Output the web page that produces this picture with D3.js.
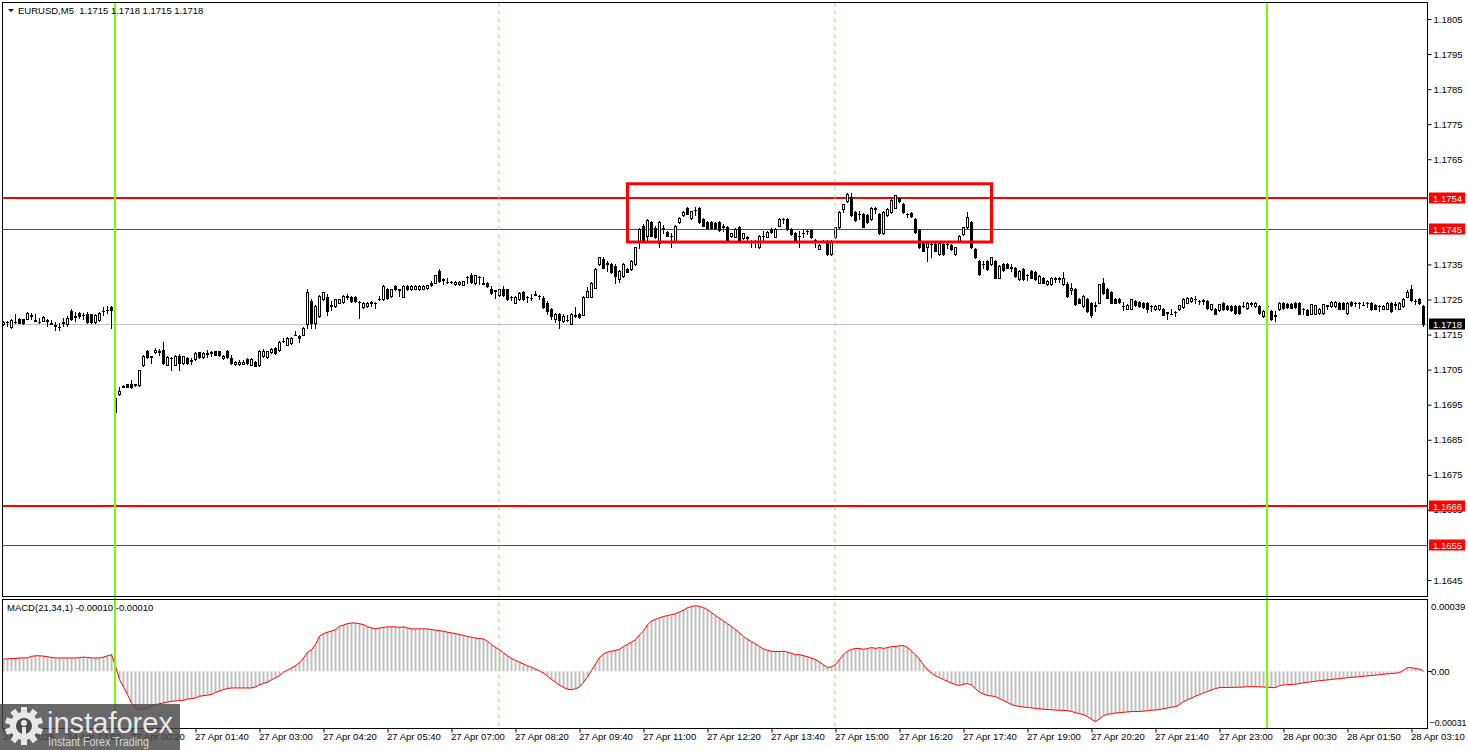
<!DOCTYPE html>
<html>
<head>
<meta charset="utf-8">
<script src="https://cdn.jsdelivr.net/npm/d3@7"></script>
<style>
  body { margin: 0; background: #fff; }
  svg { display: block; font-family: "Liberation Sans", Arial, sans-serif; }
</style>
</head>
<body>
<svg id="chart" width="1468" height="750"></svg>
<script>
// EURUSD M5 candles, values in pips above 1.1700
var opens = [
  18.1,18.6,17.2,18.6,19.3,19.3,19.5,20.5,19.1,18.6, 19.0,19.2,18.2,17.6,17.2,18.4,18.0,21.6,20.0,21.2,
  20.7,21.0,20.8,18.7,19.2,21.6,22.0,22.9,-7.0,-2.0, 0.1,0.8,0.9,0.5,0.6,6.3,10.2,8.6,10.0,10.3,
  10.6,6.4,8.2,6.4,9.0,6.8,8.2,7.5,8.0,9.9, 8.5,9.6,9.8,10.2,10.2,8.2,10.2,8.2,6.6,6.6,
  6.7,8.0,6.4,7.1,6.4,8.8,8.6,10.0,11.1,10.6, 13.1,12.1,12.6,14.9,14.5,15.0,17.9,24.5,18.3,20.2,
  25.0,25.8,23.2,23.1,24.1,24.3,25.8,25.7,25.8,24.3, 22.9,23.0,24.0,24.1,25.0,25.0,28.0,26.0,28.9,27.9,
  25.8,28.9,28.0,28.1,28.0,28.1,28.2,29.8,29.8,33.2, 30.6,30.0,29.9,29.4,29.3,29.2,31.3,32.0,29.6,31.3,
  29.6,29.8,28.0,27.5,26.2,28.0,27.9,25.7,24.1,25.0, 27.1,25.7,25.4,26.4,25.9,25.5,24.0,22.3,19.3,21.0,
  18.8,19.2,18.1,20.4,21.0,20.7,25.8,25.8,28.4,35.1, 36.5,35.2,35.1,34.6,30.8,31.7,33.8,33.6,35.1,41.3,
  46.1,43.2,47.1,45.3,41.0,45.4,44.2,43.1,41.8,47.1, 49.0,51.1,48.2,50.4,51.1,48.0,47.1,47.1,46.8,47.1,
  45.8,45.6,43.0,42.9,45.6,42.5,42.6,41.8,41.7,40.0, 43.0,42.9,45.1,42.9,46.1,47.9,48.0,45.1,43.9,43.0,
  44.0,44.6,44.7,41.9,39.5,41.7,41.8,38.0,42.7,45.6, 50.9,53.1,54.2,49.9,49.4,49.5,49.0,48.0,50.9,49.3,
  43.9,49.0,49.9,51.2,54.0,52.1,49.4,49.6,48.0,44.8, 41.0,39.9,40.7,40.8,37.9,40.8,40.7,40.4,38.0,41.8,
  43.7,45.6,47.1,39.4,36.0,35.0,36.0,35.1,36.0,31.2, 35.1,35.1,34.2,34.1,30.8,33.6,31.9,33.0,32.7,29.8,
  31.1,29.3,29.3,30.9,30.9,29.3,29.5,27.8,27.9,25.0, 23.1,25.2,24.1,23.2,24.1,29.8,27.9,27.0,25.0,25.0,
  23.1,22.4,22.4,24.5,24.3,24.1,24.1,23.1,22.2,22.2, 22.4,21.2,21.0,21.4,22.2,22.9,24.1,24.5,25.0,24.5,
  24.7,24.5,22.2,22.2,22.0,24.1,23.1,23.0,23.1,23.1, 23.0,22.6,23.8,23.0,23.1,20.2,23.0,21.7,20.4,22.2,
  24.1,23.8,23.7,23.9,24.1,22.2,22.0,21.0,21.0,21.2, 21.2,23.2,23.1,23.1,24.1,24.1,21.2,24.3,24.0,23.9,
  23.5,23.9,24.1,23.3,23.0,22.4,22.4,24.1,23.5,22.4, 23.1,25.8,27.9,24.5,25.0,23.1
];
var highs = [
  18.8,18.8,19.4,21.0,19.6,19.5,21.4,21.2,20.9,19.8, 20.3,19.4,19.2,18.5,18.4,19.6,20.3,22.2,21.3,21.4,
  21.2,21.3,21.0,20.8,21.4,22.8,23.0,23.1,-3.0,0.1, 0.5,1.0,2.0,1.0,5.0,9.1,10.5,9.0,11.1,11.0,
  13.0,8.8,8.6,9.1,9.4,9.0,8.5,8.3,10.0,10.1, 10.0,10.5,10.4,10.4,10.4,9.2,10.5,9.3,7.5,7.6,
  7.8,8.2,8.2,7.4,10.5,11.0,10.4,11.2,11.4,13.2, 14.0,14.2,14.2,16.0,15.0,17.1,27.9,25.2,23.5,26.2,
  27.2,26.5,24.5,25.2,25.2,26.2,26.6,26.0,26.0,24.6, 24.2,24.2,24.6,24.3,26.0,29.1,28.4,28.1,29.1,28.1,
  29.1,29.1,29.0,29.1,29.0,29.1,29.2,30.4,32.1,33.8, 31.0,31.0,30.4,30.3,30.2,30.4,31.6,32.5,32.1,31.6,
  31.5,30.0,28.9,27.8,28.1,28.9,28.1,26.0,26.0,27.0, 27.5,26.0,26.5,27.5,26.2,26.0,24.5,22.5,21.2,21.2,
  21.0,20.7,21.2,22.9,21.2,26.0,28.5,30.0,34.0,37.2, 37.0,36.0,35.5,35.0,33.4,35.3,34.1,36.2,40.1,45.3,
  46.4,48.0,47.4,46.0,47.3,46.2,44.5,44.0,46.3,48.4, 50.2,51.4,50.3,51.3,51.5,48.3,47.4,47.4,47.2,47.4,
  46.4,46.0,44.1,45.3,46.0,44.1,43.0,42.0,42.0,43.4, 44.5,44.4,45.3,45.3,48.2,48.2,48.3,45.4,44.2,44.5,
  45.0,45.2,45.0,42.2,40.7,42.0,42.1,41.9,45.8,50.1, 52.3,55.4,55.4,50.2,50.2,49.8,49.3,51.4,51.3,49.6,
  50.1,51.1,53.7,54.9,54.3,52.4,49.8,49.9,48.3,45.1, 41.3,41.2,41.2,41.1,41.2,41.1,41.5,40.7,40.1,43.4,
  45.8,50.0,47.4,39.7,36.3,36.0,36.3,37.2,36.3,34.8, 35.4,35.4,35.0,34.4,33.4,33.9,32.4,33.3,33.0,31.9,
  31.4,30.5,31.3,31.3,31.3,32.7,30.0,29.6,28.2,25.3, 26.2,25.5,24.4,24.2,29.5,31.0,28.2,27.3,25.3,25.3,
  24.4,23.7,25.2,24.8,24.6,24.4,24.4,23.4,23.3,23.5, 22.7,21.5,22.2,21.7,23.5,25.4,25.7,25.8,26.0,24.9,
  25.2,24.8,23.8,22.5,23.8,24.4,23.4,23.3,23.4,23.4, 24.2,24.3,24.2,24.2,23.4,21.9,24.0,22.0,21.7,24.3,
  24.4,24.1,24.0,24.3,24.4,22.5,22.3,23.8,23.5,22.6, 23.8,23.5,24.5,24.5,24.4,24.4,24.3,24.6,24.3,24.3,
  24.4,24.2,24.4,23.6,23.3,23.5,24.3,24.4,24.2,24.3, 25.4,27.6,29.0,25.0,25.3,23.5
];
var lows = [
  17.8,17.3,17.0,18.4,18.2,18.1,19.3,19.4,18.8,18.3, 18.8,17.4,18.0,16.4,16.2,17.3,17.4,19.2,18.8,19.8,
  19.3,18.3,18.4,18.4,19.0,20.6,21.2,16.9,-7.3,-2.3, 0.0,0.0,-0.2,0.4,0.4,6.0,8.3,6.8,9.8,9.3,
  6.5,6.2,4.9,6.2,4.9,6.6,6.6,6.5,7.8,8.3, 8.3,8.6,8.8,9.1,9.0,8.0,8.4,6.6,6.4,6.4,
  6.5,6.6,6.2,5.9,6.0,8.6,8.4,9.8,9.5,10.4, 12.9,11.9,12.4,14.8,13.0,14.8,17.0,16.9,16.9,20.0,
  24.8,20.5,22.0,22.9,23.9,24.1,25.0,24.3,24.3,19.8, 22.7,22.8,23.2,22.7,24.8,24.8,25.0,25.8,27.7,26.0,
  25.6,27.7,27.8,27.9,27.8,27.9,28.0,28.8,29.6,30.1, 29.5,29.8,29.7,29.2,29.1,29.0,29.8,29.7,29.4,29.5,
  29.4,28.7,26.7,25.5,26.0,26.0,24.8,24.9,23.9,24.8, 24.8,24.3,24.8,26.2,25.0,22.7,21.0,19.5,18.5,16.9,
  18.6,19.0,17.9,20.0,19.8,20.5,25.6,25.6,28.2,34.9, 33.9,33.2,32.5,29.8,30.0,31.5,32.7,33.4,34.9,39.8,
  41.6,41.5,43.0,42.6,39.9,44.0,43.0,39.9,41.6,46.9, 48.8,49.3,48.0,49.2,46.9,45.9,45.0,45.2,45.2,44.5,
  44.6,41.6,42.8,42.7,41.6,42.3,41.9,39.9,39.9,39.8, 41.8,42.7,44.0,42.7,45.9,46.8,44.9,43.5,41.6,39.9,
  42.8,43.8,42.5,40.0,39.3,41.5,37.8,37.8,42.5,45.4, 50.0,52.9,48.8,47.5,48.0,45.6,46.9,47.8,49.6,43.7,
  43.7,48.8,49.7,51.0,52.9,49.7,48.4,48.5,44.0,39.7, 38.7,36.0,37.2,38.7,37.7,37.8,39.8,39.2,37.8,41.6,
  43.5,45.4,39.7,36.8,32.0,34.0,33.4,34.9,31.0,31.0, 33.2,33.9,33.0,31.5,30.6,30.6,30.6,31.0,30.6,29.6,
  29.6,29.1,29.1,30.0,30.0,29.1,25.8,26.5,23.4,23.9, 22.9,21.5,20.0,21.8,23.9,26.7,25.3,23.9,23.9,24.1,
  22.0,22.2,22.2,23.1,22.9,22.7,21.5,21.8,22.0,22.0, 20.5,19.3,20.8,20.2,22.0,22.7,23.9,24.3,24.0,23.6,
  23.8,22.4,22.0,20.8,21.8,22.0,22.0,21.8,21.0,21.0, 22.8,22.4,23.0,22.8,21.0,20.0,22.8,19.1,19.0,22.0,
  22.3,22.6,22.5,22.7,20.8,21.0,20.5,20.8,20.8,21.0, 21.0,22.3,22.9,22.9,22.2,22.2,21.0,23.1,23.0,22.6,
  23.3,22.8,22.0,22.2,21.8,22.2,22.2,21.5,22.2,22.2, 22.9,25.6,24.6,23.6,23.7,17.5
];
var closes = [
  18.6,18.5,19.2,18.5,18.4,18.3,21.2,20.3,19.0,18.5, 20.0,19.0,18.1,17.5,17.1,18.5,19.8,19.4,20.2,20.2,
  20.6,18.6,18.6,20.5,21.2,21.7,22.1,22.0,-3.2,-1.0, 0.3,0.1,-0.1,0.8,4.9,8.9,8.6,8.9,10.5,10.0,
  6.8,8.5,8.4,8.9,7.0,8.8,6.8,7.8,9.8,8.5, 9.8,9.5,10.0,9.3,9.2,9.0,8.6,6.8,7.3,7.3,
  7.3,6.8,8.0,6.1,10.2,10.2,10.2,10.8,9.7,13.0, 13.2,14.0,14.0,15.0,14.0,16.9,27.1,18.3,23.1,26.0,
  27.0,21.7,23.5,25.0,25.0,26.0,26.0,24.5,24.5,24.2, 24.0,24.0,24.2,24.0,25.0,28.9,25.5,27.9,27.9,27.8,
  28.9,27.9,28.8,28.9,28.8,28.9,29.0,29.0,31.9,30.3, 30.8,30.0,29.9,30.1,30.0,30.2,31.4,29.9,31.9,31.4,
  29.5,28.9,26.9,27.6,27.9,26.2,25.0,25.8,25.8,26.8, 25.0,25.8,25.5,26.5,26.0,22.9,21.7,20.4,21.0,19.1,
  20.2,19.1,21.0,20.5,20.0,25.8,27.4,29.8,33.8,37.0, 34.1,35.3,32.7,31.7,33.2,35.1,32.9,36.0,39.9,45.1,
  41.8,47.8,43.2,42.8,47.1,45.5,43.2,43.0,46.1,48.2, 50.0,49.5,50.1,50.5,47.1,46.1,45.3,45.4,45.4,44.7,
  46.0,41.8,43.9,45.1,41.8,43.9,42.7,41.8,41.8,43.2, 43.0,44.2,44.2,45.1,48.0,48.0,45.1,43.7,41.8,43.0,
  44.0,44.6,42.7,41.9,40.5,41.8,38.0,41.8,45.6,49.9, 52.1,55.2,49.0,47.7,49.5,45.8,47.1,51.2,51.0,43.9,
  49.9,50.9,53.5,54.7,53.1,49.9,49.5,48.7,44.2,39.9, 38.9,41.0,40.8,38.9,41.0,38.0,40.8,39.4,39.9,43.2,
  45.6,48.5,39.9,37.0,32.2,35.0,33.6,37.0,31.2,34.6, 33.4,34.1,34.0,31.7,33.2,30.8,32.0,31.2,30.8,31.7,
  29.8,30.3,31.1,31.0,31.0,31.1,26.0,28.2,23.6,24.1, 26.0,21.7,20.7,23.5,29.3,26.9,25.5,24.1,24.1,24.3,
  23.0,23.5,25.0,23.3,23.1,22.9,22.2,23.0,23.1,23.3, 20.7,21.3,21.0,21.5,23.3,25.2,25.5,25.5,25.0,24.6,
  24.8,22.6,23.6,21.0,23.6,22.2,22.2,22.0,21.2,21.2, 23.0,24.1,24.0,24.0,21.2,21.7,23.0,19.3,20.5,24.1,
  22.5,22.8,22.7,22.9,21.0,22.3,20.7,23.6,23.3,22.4, 23.6,23.3,24.3,24.3,22.4,22.4,24.1,23.3,24.0,23.9,
  23.5,23.9,22.2,22.4,23.0,23.2,24.1,21.7,23.6,24.1, 25.2,27.1,24.8,24.6,23.9,18.0
];
// MACD(21,34,1) per bar, in units of 0.00001
var macd = [
  6.8,6.8,7.0,7.0,7.3,7.3,7.3,8.2,8.5,8.5, 8.3,8.0,7.5,7.3,7.3,7.3,7.3,7.3,7.3,7.5,
  7.8,7.6,7.3,7.3,7.3,7.8,8.5,9.1,2.7,-4.5, -8.5,-12.7,-17.3,-20.0,-21.0,-20.6,-20.0,-19.1,-18.2,-17.7,
  -17.3,-16.8,-16.4,-16.2,-16.0,-15.8,-15.1,-14.9,-14.6,-13.6, -13.3,-13.0,-12.7,-11.5,-10.8,-10.0,-9.4,-9.1,-9.1,-9.1,
  -9.1,-9.1,-9.1,-8.5,-7.3,-6.6,-6.0,-4.6,-3.5,-2.4, -0.5,0.6,1.8,3.1,4.6,7.3,10.4,11.8,14.6,19.2,
  20.6,21.4,22.0,22.8,24.6,25.3,26.1,26.4,26.4,26.0, 25.5,24.3,23.7,23.2,23.7,24.0,24.3,24.3,24.3,24.0,
  24.3,23.7,23.2,23.2,23.2,23.2,23.2,22.8,22.5,22.2, 21.9,21.4,21.0,20.6,20.1,19.6,19.1,18.6,18.2,17.9,
  17.7,16.4,14.6,13.0,11.8,10.0,8.5,7.0,6.0,5.0, 4.0,3.0,2.2,1.2,0.3,-1.0,-2.6,-4.5,-6.0,-7.6,
  -8.8,-9.8,-10.0,-9.6,-8.5,-6.0,-3.0,0.5,4.0,7.5, 9.5,10.5,11.0,11.5,12.0,13.5,14.8,16.0,17.3,20.0,
  22.0,25.5,27.5,28.5,29.3,30.0,30.5,31.0,31.5,32.5, 33.5,34.8,35.5,35.9,35.5,34.8,33.7,32.0,30.5,29.0,
  27.5,26.0,24.5,22.8,21.0,19.0,17.5,16.2,15.0,13.5, 12.2,11.5,11.0,10.8,10.8,11.0,10.5,9.8,9.1,9.1,
  8.5,8.0,7.2,6.4,5.0,3.5,2.0,2.5,3.7,6.5, 9.1,11.0,12.0,12.5,12.5,12.0,12.5,13.0,12.5,13.0,
  12.5,13.0,13.5,13.5,14.0,14.0,13.0,11.0,9.0,6.5, 3.5,0.9,-1.0,-2.5,-3.5,-4.5,-5.5,-6.5,-7.3,-7.8,
  -7.0,-6.7,-7.5,-9.5,-11.5,-12.5,-13.2,-13.5,-13.8,-15.0, -16.0,-17.0,-18.2,-18.8,-19.2,-19.5,-19.8,-20.0,-20.3,-20.5,
  -20.7,-20.9,-21.0,-21.2,-21.3,-21.4,-21.5,-22.0,-22.6,-23.2, -23.7,-24.8,-26.2,-27.5,-26.0,-24.2,-23.5,-23.2,-22.8,-22.6,
  -22.4,-22.2,-22.0,-22.0,-22.0,-21.8,-21.5,-21.3,-21.1,-20.9, -20.5,-20.0,-19.6,-19.3,-18.2,-16.6,-15.5,-14.6,-13.6,-12.7,
  -11.8,-11.0,-10.2,-9.4,-8.9,-8.9,-8.8,-8.8,-8.7,-8.7, -8.6,-8.4,-8.4,-8.4,-8.5,-8.6,-8.7,-8.9,-8.9,-7.8,
  -7.5,-7.3,-7.2,-7.0,-6.7,-6.3,-6.0,-5.7,-5.4,-5.1, -4.9,-4.7,-4.5,-4.2,-4.0,-3.8,-3.5,-3.3,-3.1,-2.9,
  -2.7,-2.5,-2.3,-2.1,-1.8,-1.6,-1.4,-1.2,-1.0,-0.7, 0.5,2.0,2.0,1.5,1.2,0.0
];

// axis labels
var timeLabels = ["24 Apr 2026","24 Apr 23:00","27 Apr 00:20","27 Apr 01:40","27 Apr 03:00","27 Apr 04:20",
  "27 Apr 05:40","27 Apr 07:00","27 Apr 08:20","27 Apr 09:40","27 Apr 11:00","27 Apr 12:20","27 Apr 13:40",
  "27 Apr 15:00","27 Apr 16:20","27 Apr 17:40","27 Apr 19:00","27 Apr 20:20","27 Apr 21:40","27 Apr 23:00",
  "28 Apr 00:30","28 Apr 01:50","28 Apr 03:10"];
var priceTicks = [1.1805,1.1795,1.1785,1.1775,1.1765,1.1735,1.1725,1.1715,1.1705,1.1695,1.1685,1.1675,1.1665,1.1645];
var macdTicks = [0.00039, 0.00, -0.00031];

// objects drawn on the chart
var levels = [1.1754, 1.1745, 1.1666, 1.1655];   // red horizontal lines
var lastPrice = 1.1718;
var dayStarts = [28, 316];                         // bar index, green vertical lines
var sessionBars = [124, 208];                      // bar index, dashed verticals
var boxBars = [156, 247], boxPrices = [1.17414, 1.1758];

var svg = d3.select("#chart");
var left = 2.5, right = 1427.5, pTop = 2.5, pBot = 596.5, mTop = 599.5, mBot = 728.5;

var pip = function(v) { return 1.17 + v / 10000; };
var n = closes.length;
var x = d3.scaleLinear().domain([0, n - 1]).range([3.5, 3.5 + 4 * (n - 1)]);
var y = d3.scaleLinear().domain([1.1645, 1.1754]).range([580, 197.8]);
var ym = d3.scaleLinear().domain([-0.00031, 0.00039]).range([728, 600]);

svg.append("rect").attr("width", 1468).attr("height", 750).attr("fill", "#fff");

var defs = svg.append("defs");
defs.append("clipPath").attr("id", "clipP").append("rect")
  .attr("x", left).attr("y", pTop).attr("width", right - left).attr("height", pBot - pTop);
defs.append("clipPath").attr("id", "clipM").append("rect")
  .attr("x", left).attr("y", mTop).attr("width", right - left).attr("height", mBot - mTop);

// ---- price pane
var pane = svg.append("g").attr("clip-path", "url(#clipP)");

// last price line
pane.append("line").attr("x1", left).attr("x2", right)
  .attr("y1", Math.round(y(lastPrice)) + 0.5).attr("y2", Math.round(y(lastPrice)) + 0.5)
  .attr("stroke", "#c0c0c0");

// red levels
var levelWidth = [2, 1, 2, 1];
pane.selectAll("line.lvl").data(levels).join("line").attr("class", "lvl")
  .attr("x1", left).attr("x2", right)
  .attr("y1", function(d, i) { return Math.round(y(d)) + (levelWidth[i] == 1 ? 0.5 : 0); })
  .attr("y2", function(d, i) { return Math.round(y(d)) + (levelWidth[i] == 1 ? 0.5 : 0); })
  .attr("stroke", "#ff0000")
  .attr("stroke-width", function(d, i) { return levelWidth[i]; });

// candles
var bars = d3.range(n).map(function(i) {
  return { i: i, o: pip(opens[i]), h: pip(highs[i]), l: pip(lows[i]), c: pip(closes[i]) };
});
var cg = pane.append("g");
cg.selectAll("rect.wick").data(bars).join("rect").attr("class", "wick")
  .attr("x", function(d) { return x(d.i) - 0.5; })
  .attr("width", 1)
  .attr("y", function(d) { return Math.round(y(d.h)); })
  .attr("height", function(d) { return Math.round(y(d.l)) - Math.round(y(d.h)) + 1; })
  .attr("fill", "#000");
cg.selectAll("rect.body").data(bars).join("rect").attr("class", "body")
  .each(function(d) {
    var top = Math.round(y(Math.max(d.o, d.c))), bot = Math.round(y(Math.min(d.o, d.c)));
    var el = d3.select(this);
    if (d.c > d.o && bot - top >= 2) {
      el.attr("x", x(d.i) - 1).attr("width", 2).attr("y", top + 0.5).attr("height", bot - top)
        .attr("fill", "#fff").attr("stroke", "#000").attr("stroke-width", 1);
    } else {
      el.attr("x", x(d.i) - 1.5).attr("width", 3).attr("y", top).attr("height", Math.max(1, bot - top + 1))
        .attr("fill", "#000");
    }
  });

// rectangle object
pane.append("rect")
  .attr("x", x(boxBars[0])).attr("y", y(boxPrices[1]))
  .attr("width", x(boxBars[1]) - x(boxBars[0]))
  .attr("height", y(boxPrices[0]) - y(boxPrices[1]))
  .attr("fill", "none").attr("stroke", "#ff0000").attr("stroke-width", 3);

// ---- MACD pane
var mp = svg.append("g").attr("clip-path", "url(#clipM)");
mp.selectAll("rect.hist").data(macd).join("rect").attr("class", "hist")
  .attr("x", function(d, i) { return x(i) - 1; })
  .attr("width", 2)
  .attr("y", function(d) { return Math.min(ym(0), ym(d * 1e-5)); })
  .attr("height", function(d) { return Math.abs(ym(d * 1e-5) - ym(0)); })
  .attr("fill", "#c0c0c0");
mp.append("path").datum(macd)
  .attr("d", d3.line().x(function(d, i) { return x(i); }).y(function(d) { return ym(d * 1e-5); }))
  .attr("fill", "none").attr("stroke", "#ff0000").attr("stroke-width", 1);

// ---- vertical lines over both panes
svg.selectAll("line.day").data(dayStarts).join("line").attr("class", "day")
  .attr("x1", function(d) { return x(d) - 0.5; }).attr("x2", function(d) { return x(d) - 0.5; })
  .attr("y1", pTop).attr("y2", mBot)
  .attr("stroke", "#7cfc00").attr("stroke-width", 2);
svg.selectAll("line.sess").data(sessionBars).join("line").attr("class", "sess")
  .attr("x1", function(d) { return x(d) - 0.5; }).attr("x2", function(d) { return x(d) - 0.5; })
  .attr("y1", pTop).attr("y2", mBot)
  .attr("stroke", "#a6dc6a").attr("stroke-width", 1).attr("stroke-dasharray", "4,4");

// ---- frames
svg.append("rect").attr("x", left).attr("y", pTop).attr("width", right - left).attr("height", pBot - pTop)
  .attr("fill", "none").attr("stroke", "#000");
svg.append("rect").attr("x", left).attr("y", mTop).attr("width", right - left).attr("height", mBot - mTop)
  .attr("fill", "none").attr("stroke", "#000");

// ---- price axis
var pAxis = svg.append("g").attr("transform", "translate(" + right + ",0)")
  .call(d3.axisRight(y).tickValues(priceTicks).tickFormat(d3.format(".4f")).tickSize(4).tickPadding(2));
pAxis.select(".domain").remove();
pAxis.selectAll("text").attr("font-size", "9.5px").attr("font-family", "Liberation Sans, Arial").attr("fill", "#000");

// level tags
var tags = levels.map(function(p) { return { p: p, bg: "#ff0000" }; }).concat([{ p: lastPrice, bg: "#000" }]);
var tg = svg.selectAll("g.tag").data(tags).join("g").attr("class", "tag")
  .attr("transform", function(d) { return "translate(1429," + Math.round(y(d.p)) + ")"; });
tg.append("rect").attr("x", 0).attr("y", -5.5).attr("width", 36).attr("height", 11).attr("fill", function(d) { return d.bg; });
tg.append("text").attr("x", 4).attr("y", 3.5).attr("font-size", "9.5px").attr("fill", "#fff")
  .text(function(d) { return d3.format(".4f")(d.p); });

// MACD axis
var mAxis = svg.append("g").attr("class", "maxis");
mAxis.selectAll("text").data(macdTicks).join("text")
  .attr("x", function(d, i) { return i == 2 ? 1429.5 : 1431; }).attr("font-size", "9.5px").attr("fill", "#000")
  .attr("y", function(d, i) { return ym(d) + [10, 3.5, -2.5][i]; })
  .attr("textLength", function(d, i) { return i == 2 ? 37 : null; })
  .attr("lengthAdjust", "spacingAndGlyphs")
  .text(function(d, i) { return i == 1 ? "0.00" : d3.format(".5f")(d); });
mAxis.append("line").attr("x1", right).attr("x2", right + 4)
  .attr("y1", Math.round(ym(0)) + 0.5).attr("y2", Math.round(ym(0)) + 0.5).attr("stroke", "#000");

// time axis
var tAxis = svg.append("g").attr("transform", "translate(0," + mBot + ")")
  .call(d3.axisBottom(x).tickValues(d3.range(0, n, 16))
    .tickFormat(function(d, i) { return timeLabels[i]; }).tickSize(4).tickPadding(1));
tAxis.select(".domain").remove();
tAxis.selectAll("text").attr("text-anchor", "start").attr("x", -1)
  .attr("font-size", "9.5px").attr("font-family", "Liberation Sans, Arial").attr("fill", "#000");

// ---- titles
svg.append("path").attr("d", "M8,9L14,9L11,12Z").attr("fill", "#000");
svg.append("text").attr("x", 18).attr("y", 14).attr("font-size", "9.5px").attr("fill", "#000")
  .attr("xml:space", "preserve").text("EURUSD,M5  1.1715 1.1718 1.1715 1.1718");
svg.append("text").attr("x", 7).attr("y", 611).attr("font-size", "9.5px").attr("fill", "#000")
  .text("MACD(21,34,1) -0.00010 -0.00010");

// ---- watermark
var wm = svg.append("g");
wm.append("rect").attr("x", 0).attr("y", 704).attr("width", 180).attr("height", 46)
  .attr("fill", "#474747").attr("opacity", 0.82);
var gear = wm.append("g").attr("transform", "translate(24,726)").attr("fill", "#fff").attr("opacity", 0.85);
gear.selectAll("rect").data(d3.range(10)).join("rect")
  .attr("x", -3).attr("y", -19).attr("width", 6).attr("height", 8)
  .attr("transform", function(d) { return "rotate(" + d * 36 + ")"; });
gear.append("circle").attr("r", 14);
gear.append("circle").attr("r", 8).attr("fill", "#474747");
gear.append("circle").attr("cy", -3).attr("r", 3);
gear.append("rect").attr("x", -2).attr("y", 1).attr("width", 4).attr("height", 7);
wm.append("text").attr("x", 47).attr("y", 733).attr("font-size", "29px").attr("fill", "#fff").attr("opacity", 0.85)
  .attr("textLength", 126).attr("lengthAdjust", "spacingAndGlyphs").text("instaforex");
wm.append("text").attr("x", 48).attr("y", 746).attr("font-size", "12px").attr("fill", "#fff").attr("opacity", 0.7)
  .attr("textLength", 101).attr("lengthAdjust", "spacingAndGlyphs").text("Instant Forex Trading");
</script>
</body>
</html>
